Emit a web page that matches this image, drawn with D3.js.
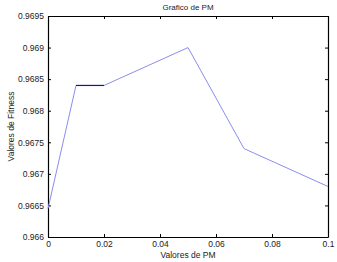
<!DOCTYPE html>
<html>
<head>
<meta charset="utf-8">
<script src="https://cdn.jsdelivr.net/npm/d3@7"></script>
<style>
  body { margin: 0; background: #fff; }
  svg text { font-family: "Liberation Sans", Arial, sans-serif; fill: #222; }
</style>
</head>
<body>
<div id="chart"></div>
<script>
// data
const pmValues = [0, 0.01, 0.02, 0.05, 0.07, 0.1];
const fitness = [0.96645, 0.9684, 0.9684, 0.969, 0.9674, 0.9668];
const xTicks = [0, 0.02, 0.04, 0.06, 0.08, 0.1];
const yTicks = [0.966, 0.9665, 0.967, 0.9675, 0.968, 0.9685, 0.969, 0.9695];
const flatSegment = [1, 2]; // indices drawn darker in the original

const width = 337, height = 262;
const margin = { top: 16, right: 9, bottom: 25, left: 48 };

const svg = d3.select("#chart").append("svg")
  .attr("width", width)
  .attr("height", height);

const x = d3.scaleLinear()
  .domain([0, 0.1])
  .range([margin.left, width - margin.right]);

const y = d3.scaleLinear()
  .domain([0.966, 0.9695])
  .range([height - margin.bottom, margin.top]);

const fs = "8.5px";

//axes, ticks pointing inward like matlab
const xAxis = svg.append("g")
  .attr("transform", "translate(0," + y.range()[0] + ")")
  .call(d3.axisBottom(x).tickValues(xTicks).tickSizeInner(-3).tickSizeOuter(0)
    .tickPadding(4).tickFormat(d3.format("")));
const yAxis = svg.append("g")
  .attr("transform", "translate(" + x.range()[0] + ",0)")
  .call(d3.axisLeft(y).tickValues(yTicks).tickSizeInner(-3).tickSizeOuter(0)
    .tickPadding(4).tickFormat(d3.format("")));
const xTop = svg.append("g")
  .attr("transform", "translate(0," + y.range()[1] + ")")
  .call(d3.axisTop(x).tickValues(xTicks).tickSizeInner(-3).tickSizeOuter(0).tickFormat(""));
const yRight = svg.append("g")
  .attr("transform", "translate(" + x.range()[1] + ",0)")
  .call(d3.axisRight(y).tickValues(yTicks).tickSizeInner(-3).tickSizeOuter(0).tickFormat(""));

[xAxis, yAxis, xTop, yRight].forEach(a => {
  a.select(".domain").attr("stroke", "#000").attr("stroke-width", 1.2);
  a.selectAll(".tick line").attr("stroke", "#000");
  a.selectAll("text").style("font-size", fs).attr("fill", "#222");
});

//the line
const line = d3.line()
  .x((d, i) => x(pmValues[i]))
  .y(d => y(d));

svg.append("path")
  .datum(fitness)
  .attr("fill", "none")
  .attr("stroke", "#8c8cf0")
  .attr("stroke-width", 1)
  .attr("d", line);

svg.append("path")
  .datum(flatSegment)
  .attr("fill", "none")
  .attr("stroke", "#1a1a80")
  .attr("stroke-width", 1.2)
  .attr("d", d3.line().x(i => x(pmValues[i])).y(i => y(fitness[i])));

//labels
svg.append("text")
  .attr("x", (x.range()[0] + x.range()[1]) / 2)
  .attr("y", 10)
  .attr("text-anchor", "middle")
  .style("font-size", "8px")
  .text("Grafico de PM");

svg.append("text")
  .attr("x", (x.range()[0] + x.range()[1]) / 2)
  .attr("y", 258)
  .attr("text-anchor", "middle")
  .style("font-size", fs)
  .text("Valores de PM");

svg.append("text")
  .attr("transform", "translate(14," + ((y.range()[0] + y.range()[1]) / 2) + ") rotate(-90)")
  .attr("text-anchor", "middle")
  .style("font-size", fs)
  .text("Valores de Fitness");
</script>
</body>
</html>
